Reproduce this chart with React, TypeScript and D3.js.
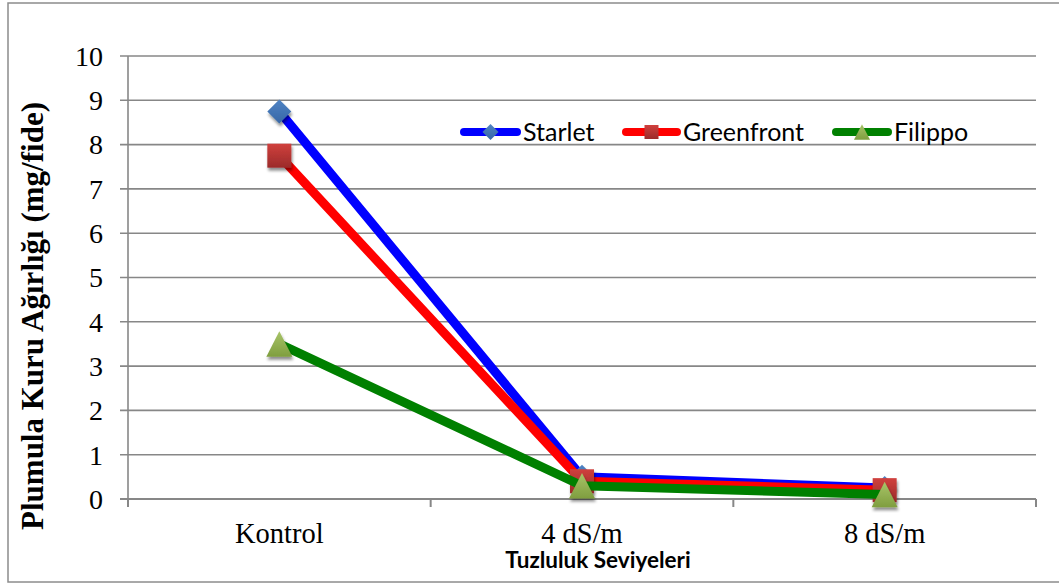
import React from "react";
import * as d3 from "d3";

// Salinity levels on the x axis
const categories = ["Kontrol", "4 dS/m", "8 dS/m"];

// Plumule dry weight (mg/seedling) per cultivar
const starlet = [8.75, 0.5, 0.25];
const greenfront = [7.75, 0.4, 0.2];
const filippo = [3.5, 0.3, 0.1];

const seriesNames = ["Starlet", "Greenfront", "Filippo"];
const yTicks = [0, 1, 2, 3, 4, 5, 6, 7, 8, 9, 10];

const W = 1059;
const H = 585;
const margin = { left: 128, right: 1036, top: 56, bottom: 499 };

type Marker = "diamond" | "square" | "triangle";

const series = [
  { name: seriesNames[0], values: starlet, line: "#0000FF", marker: "diamond" as Marker, grad: "gDiamond" },
  { name: seriesNames[1], values: greenfront, line: "#FF0000", marker: "square" as Marker, grad: "gSquare" },
  { name: seriesNames[2], values: filippo, line: "#008000", marker: "triangle" as Marker, grad: "gTriangle" },
];

function markerPath(kind: Marker, size: number): string {
  const h = size / 2;
  if (kind === "diamond") return `M0,${-h}L${h},0L0,${h}L${-h},0Z`;
  if (kind === "square") return `M${-h},${-h}H${h}V${h}H${-h}Z`;
  const th = size * 0.98;
  return `M0,${-th / 2}L${h},${th / 2}L${-h},${th / 2}Z`;
}

export default function App() {
  const x = d3
    .scaleBand<string>()
    .domain(categories)
    .range([margin.left, margin.right]);
  const y = d3.scaleLinear().domain([0, 10]).range([margin.bottom, margin.top]);

  const cx = (c: string) => (x(c) ?? 0) + x.bandwidth() / 2;

  const line = d3
    .line<number>()
    .x((_, i) => cx(categories[i]))
    .y((d) => y(d));

  const boundaries = [...categories.map((c) => x(c) ?? 0), margin.right];

  const legendItems = [
    { x0: 460, x1: 521, tx: 523 },
    { x0: 622, x1: 681, tx: 683 },
    { x0: 832, x1: 892, tx: 894 },
  ];
  const legendY = 132;

  const grid = "#878787";

  return (
    <svg
      width={W}
      height={H}
      style={{ position: "absolute", left: 0, top: 0, background: "#fff" }}
    >
      <defs>
        <linearGradient id="gDiamond" x1="0" y1="0" x2="0" y2="1">
          <stop offset="0" stopColor="#4F83C4" />
          <stop offset="1" stopColor="#3767A6" />
        </linearGradient>
        <linearGradient id="gSquare" x1="0" y1="0" x2="0" y2="1">
          <stop offset="0" stopColor="#D0403D" />
          <stop offset="1" stopColor="#9B2B2A" />
        </linearGradient>
        <linearGradient id="gTriangle" x1="0" y1="0" x2="0" y2="1">
          <stop offset="0" stopColor="#A8C468" />
          <stop offset="1" stopColor="#7F9E3F" />
        </linearGradient>
        <filter id="shadow" x="-50%" y="-50%" width="200%" height="200%">
          <feGaussianBlur in="SourceAlpha" stdDeviation="1.6" />
          <feOffset dx="1" dy="2.5" result="off" />
          <feComponentTransfer>
            <feFuncA type="linear" slope="0.45" />
          </feComponentTransfer>
          <feMerge>
            <feMergeNode />
            <feMergeNode in="SourceGraphic" />
          </feMerge>
        </filter>
      </defs>

      {/* outer chart frame */}
      <rect x={8} y={3} width={1060} height={579} fill="#fff" stroke="#8c8c8c" strokeWidth={1.5} />

      {/* horizontal gridlines */}
      {yTicks.map((t) => (
        <line
          key={"g" + t}
          x1={margin.left - 8}
          x2={margin.right}
          y1={y(t)}
          y2={y(t)}
          stroke={grid}
          strokeWidth={t === 0 ? 2.2 : 1.6}
        />
      ))}

      {/* vertical axis */}
      <line x1={margin.left} x2={margin.left} y1={margin.top} y2={margin.bottom + 1} stroke={grid} strokeWidth={1.6} />

      {/* category boundary ticks */}
      {boundaries.map((b, i) => (
        <line key={"t" + i} x1={b} x2={b} y1={margin.bottom} y2={margin.bottom + 8} stroke={grid} strokeWidth={2} />
      ))}

      {/* y tick labels */}
      {yTicks.map((t) => (
        <text
          key={"yl" + t}
          x={103}
          y={y(t)}
          dy="0.35em"
          textAnchor="end"
          fontFamily="'Liberation Serif', 'Times New Roman', serif"
          fontSize={28}
          fill="#000"
        >
          {t}
        </text>
      ))}

      {/* category labels */}
      {categories.map((c) => (
        <text
          key={"xl" + c}
          x={cx(c)}
          y={543}
          textAnchor="middle"
          fontFamily="'Liberation Serif', 'Times New Roman', serif"
          fontSize={28.5}
          fill="#000"
        >
          {c}
        </text>
      ))}

      {/* axis titles */}
      <text
        transform="translate(43,316) rotate(-90)"
        textAnchor="middle"
        fontFamily="'Liberation Serif', 'Times New Roman', serif"
        fontWeight="bold"
        fontSize={31}
        fill="#000"
      >
        Plumula Kuru Ağırlığı (mg/fide)
      </text>
      <text
        x={598}
        y={568}
        textAnchor="middle"
        fontFamily="Lato, 'Open Sans', sans-serif"
        fontWeight="bold"
        fontSize={22.5}
        fill="#000"
      >
        Tuzluluk Seviyeleri
      </text>

      {/* series lines and markers */}
      {series.map((s) => (
        <g key={s.name}>
          <path
            d={line(s.values) ?? ""}
            fill="none"
            stroke={s.line}
            strokeWidth={9}
            strokeLinejoin="round"
            strokeLinecap="round"
          />
          {s.values.map((v, i) => (
            <path
              key={i}
              transform={`translate(${cx(categories[i])},${y(v)})`}
              d={markerPath(s.marker, s.marker === "diamond" ? 24 : s.marker === "square" ? 24 : 26)}
              fill={`url(#${s.grad})`}
              filter="url(#shadow)"
            />
          ))}
        </g>
      ))}

      {/* legend */}
      {series.map((s, i) => {
        const it = legendItems[i];
        const mid = (it.x0 + it.x1) / 2;
        return (
          <g key={"lg" + s.name}>
            <line
              x1={it.x0 + 4}
              x2={it.x1 - 4}
              y1={legendY}
              y2={legendY}
              stroke={s.line}
              strokeWidth={8}
              strokeLinecap="round"
            />
            <path
              transform={`translate(${mid},${legendY})`}
              d={markerPath(s.marker, s.marker === "diamond" ? 16 : s.marker === "square" ? 14 : 16)}
              fill={`url(#${s.grad})`}
            />
            <text
              x={it.tx}
              y={legendY}
              dy="0.36em"
              fontFamily="Lato, 'Open Sans', sans-serif"
              fontSize={25}
              fill="#000"
            >
              {s.name}
            </text>
          </g>
        );
      })}
    </svg>
  );
}
